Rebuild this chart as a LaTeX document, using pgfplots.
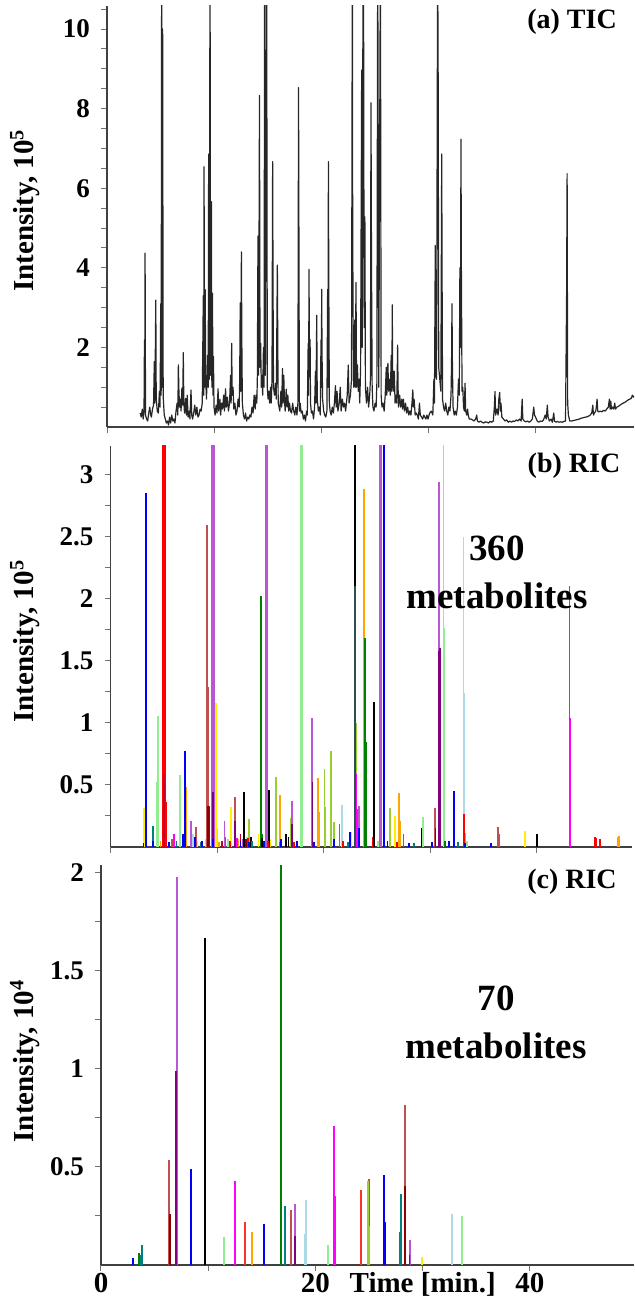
\documentclass[border=0pt]{standalone}
\usepackage{fontspec}
\setmainfont{Liberation Serif}
\usepackage{pgfplots}
\pgfplotsset{compat=1.18}
\definecolor{cBlue}{RGB}{0,0,255}
\definecolor{cRed}{RGB}{255,0,0}
\definecolor{cCrimson}{RGB}{200,0,40}
\definecolor{cLG}{RGB}{144,238,144}
\definecolor{cYellow}{RGB}{255,240,0}
\definecolor{cTeal}{RGB}{0,128,128}
\definecolor{cMagenta}{RGB}{255,0,255}
\definecolor{cOrange}{RGB}{255,165,0}
\definecolor{cPurple}{RGB}{128,0,128}
\definecolor{cOrchid}{RGB}{186,85,211}
\definecolor{cIndian}{RGB}{190,80,80}
\definecolor{cDarkRed}{RGB}{139,0,0}
\definecolor{cGreen}{RGB}{0,128,0}
\definecolor{cYG}{RGB}{154,205,50}
\definecolor{cLB}{RGB}{173,216,230}
\definecolor{cDSG}{RGB}{47,79,79}
\definecolor{cTomato}{RGB}{255,50,40}
\pgfplotsset{
  chrom/.style={
    scale only axis,
    axis x line=bottom, axis y line=left,
    axis line style={-, draw=black!75, line width=0.8pt},
    tick style={draw=black!55, line width=0.5pt},
    tick align=outside,
    major tick length=3pt, minor tick length=3pt,
    xmin=0, ymin=0,
    xtick={0,10,20,30,40},
    clip=true,
    ticklabel style={font=\fontsize{13.5}{15}\bfseries\selectfont},
    /pgf/number format/assume math mode=true,
    ylabel style={font=\fontsize{14.5}{16}\bfseries\selectfont, anchor=center},
  },
  spike/.style={ycomb, no markers, line width=0.9pt},
}
\begin{document}
\begin{tikzpicture}
\useasboundingbox (0,0) rectangle (317pt,-650pt);
% ---------------- (a) TIC ----------------
\begin{axis}[chrom,
  at={(53.5pt,-213.5pt)}, anchor=south west,
  width=263.5pt, height=210.5pt,
  xmax=49.25, ymax=10.58,
  xticklabels={},
  ytick={2,4,6,8,10},
  minor ytick={0.5,1,...,10.5},
  yticklabel style={xshift=-2pt},
  ylabel={Intensity, 10\textsuperscript{5}},
  ylabel style={at={(axis description cs:-0.1556,0.515)}},
]
\addplot[black!85, line width=0.6pt, line join=round] table {
3.10 0.35
3.20 0.25
3.30 0.45
3.38 0.20
3.46 0.40
3.50 2.19
3.53 0.60
3.56 4.37
3.60 0.30
3.70 0.20
3.80 0.15
3.90 0.35
4.00 0.50
4.08 0.30
4.15 0.25
4.25 0.45
4.35 0.55
4.42 1.64
4.46 0.60
4.52 2.00
4.56 3.19
4.60 0.70
4.70 0.40
4.80 0.35
4.90 0.90
4.96 0.50
5.02 3.10
5.06 0.80
5.11 12
5.15 1.00
5.20 10.0
5.25 0.77
5.35 0.30
5.45 0.20
5.55 0.10
5.65 0.15
5.75 0.05
5.85 0.25
5.95 0.10
6.05 0.30
6.15 0.15
6.25 0.20
6.35 0.10
6.45 0.40
6.55 0.60
6.62 0.30
6.67 1.56
6.72 0.93
6.78 0.50
6.85 0.70
6.92 0.40
7.00 0.98
7.07 0.55
7.13 1.87
7.18 0.60
7.25 0.35
7.35 0.72
7.42 0.30
7.50 0.80
7.58 0.25
7.68 0.40
7.75 0.20
7.85 0.93
7.92 0.30
8.00 0.20
8.10 0.35
8.20 0.55
8.30 0.30
8.40 0.50
8.50 0.25
8.60 0.30
8.70 0.45
8.80 0.40
8.90 0.60
9.00 3.30
9.04 0.80
9.07 6.54
9.12 1.00
9.18 3.45
9.22 1.20
9.30 0.70
9.40 1.80
9.46 1.00
9.50 6.86
9.55 1.20
9.63 12
9.68 1.30
9.76 5.66
9.80 1.00
9.86 3.36
9.90 0.80
9.95 1.77
10.00 0.50
10.10 0.30
10.20 0.55
10.28 0.35
10.38 0.96
10.44 0.40
10.55 0.70
10.62 0.30
10.70 0.60
10.80 0.45
10.90 0.80
10.98 0.40
11.08 0.96
11.15 0.50
11.25 0.75
11.35 0.40
11.45 0.60
11.55 1.30
11.60 0.60
11.65 2.10
11.70 0.80
11.78 1.00
11.85 0.45
11.95 0.60
12.05 0.30
12.15 0.40
12.25 0.70
12.35 0.50
12.40 1.20
12.45 3.12
12.50 0.90
12.56 4.40
12.60 2.20
12.65 0.60
12.75 0.30
12.85 0.20
12.95 0.35
13.05 0.15
13.15 0.25
13.25 0.20
13.35 0.30
13.45 0.25
13.55 0.50
13.65 0.35
13.75 0.80
13.85 0.45
13.92 0.80
14.00 0.60
14.05 1.20
14.11 4.80
14.17 1.30
14.25 8.33
14.30 1.50
14.36 2.10
14.42 1.00
14.48 1.30
14.55 0.80
14.62 2.00
14.68 1.00
14.73 12
14.80 1.30
14.92 12
14.98 1.00
15.05 0.70
15.12 0.90
15.20 0.60
15.28 1.00
15.35 0.60
15.42 1.20
15.48 6.67
15.52 3.36
15.56 1.00
15.65 0.80
15.75 1.10
15.82 0.70
15.92 4.07
15.96 2.10
16.00 0.60
16.08 0.50
16.15 0.40
16.25 0.90
16.32 0.50
16.40 1.47
16.45 0.60
16.52 1.30
16.58 0.70
16.65 0.40
16.75 0.95
16.82 0.50
16.90 0.80
16.98 0.40
17.05 0.60
17.15 0.40
17.25 0.35
17.35 0.60
17.45 0.40
17.55 0.30
17.65 0.50
17.75 0.30
17.84 0.60
17.90 8.53
17.94 4.37
17.98 0.40
18.05 0.60
18.15 0.35
18.25 0.40
18.35 0.20
18.45 0.30
18.55 0.15
18.65 0.40
18.72 0.30
18.80 2.10
18.84 0.80
18.88 3.96
18.92 1.50
18.98 2.20
19.02 0.60
19.10 0.35
19.20 0.40
19.30 0.20
19.40 0.50
19.48 1.40
19.53 0.60
19.60 2.81
19.65 0.70
19.75 0.40
19.85 0.50
19.93 0.30
20.00 2.19
20.04 1.00
20.06 3.46
20.10 1.77
20.15 0.70
20.25 0.40
20.35 0.30
20.45 0.25
20.55 0.40
20.62 3.46
20.66 1.00
20.69 6.67
20.73 3.42
20.78 0.60
20.85 0.40
20.95 0.30
21.05 0.50
21.15 0.35
21.25 0.60
21.35 1.04
21.42 0.50
21.50 0.90
21.58 0.40
21.70 0.60
21.80 1.00
21.88 0.40
22.00 0.70
22.10 0.50
22.20 0.60
22.30 0.40
22.45 0.80
22.55 1.56
22.62 0.60
22.75 0.80
22.85 1.20
22.93 12
22.96 5.10
23.00 2.69
23.05 1.00
23.10 1.50
23.15 2.69
23.20 1.00
23.27 3.63
23.32 1.00
23.40 1.56
23.48 0.90
23.55 1.20
23.62 0.60
23.70 1.50
23.80 8.97
23.85 2.00
23.93 12
23.98 10.43
24.03 2.50
24.10 5.28
24.15 1.00
24.25 0.60
24.35 1.00
24.45 0.50
24.55 0.80
24.62 1.20
24.67 8.15
24.72 4.00
24.78 1.00
24.85 0.50
24.95 0.40
25.05 0.60
25.15 0.50
25.22 1.10
25.30 12
25.40 1.00
25.55 12
25.62 0.80
25.70 0.50
25.80 0.60
25.90 0.40
26.00 0.80
26.10 1.50
26.15 0.80
26.25 1.60
26.32 0.90
26.40 1.20
26.48 0.80
26.56 1.80
26.62 0.90
26.66 3.07
26.70 1.20
26.78 0.90
26.85 1.40
26.92 0.60
27.00 0.80
27.08 0.60
27.16 2.06
27.20 1.00
27.25 0.50
27.35 0.80
27.45 0.50
27.55 0.70
27.62 0.45
27.70 0.70
27.80 0.40
27.90 0.60
28.00 0.35
28.10 0.50
28.20 0.30
28.30 0.40
28.40 0.30
28.50 0.60
28.58 0.93
28.63 0.50
28.70 0.70
28.80 0.30
28.90 0.35
29.00 0.30
29.10 0.20
29.20 0.60
29.28 0.30
29.40 0.25
29.50 0.20
29.60 0.30
29.70 0.25
29.80 0.20
29.90 0.30
30.00 0.20
30.15 0.35
30.30 0.40
30.45 0.30
30.55 1.20
30.60 0.60
30.68 4.56
30.72 1.30
30.80 1.20
30.90 12
30.95 8.72
31.00 1.50
31.10 1.20
31.20 0.90
31.28 6.86
31.32 3.45
31.36 0.70
31.45 0.50
31.55 0.40
31.65 0.60
31.75 0.40
31.85 0.30
31.95 0.50
32.05 0.40
32.15 0.80
32.20 1.60
32.24 3.10
32.28 1.60
32.34 0.50
32.45 0.30
32.55 0.40
32.65 0.30
32.75 0.50
32.85 1.20
32.92 0.80
32.98 4.00
33.03 2.00
33.08 7.23
33.12 3.90
33.18 0.90
33.25 1.00
33.32 0.50
33.40 0.40
33.46 1.10
33.52 0.40
33.62 0.30
33.70 0.45
33.76 0.30
33.85 0.20
34.00 0.20
34.15 0.18
34.30 0.15
34.45 0.20
34.55 0.30
34.62 0.15
34.75 0.12
34.90 0.15
35.05 0.12
35.20 0.10
35.35 0.13
35.50 0.12
35.65 0.10
35.80 0.14
35.95 0.12
36.10 0.15
36.20 0.50
36.26 0.89
36.32 0.30
36.45 0.45
36.55 0.30
36.62 0.70
36.70 0.87
36.76 0.40
36.82 0.60
36.90 0.25
37.05 0.20
37.20 0.15
37.35 0.18
37.50 0.12
37.65 0.15
37.80 0.12
37.95 0.15
38.10 0.14
38.25 0.18
38.40 0.15
38.55 0.20
38.70 0.15
38.80 0.70
38.86 0.20
39.00 0.15
39.15 0.13
39.30 0.15
39.45 0.12
39.60 0.15
39.75 0.20
39.88 0.50
39.95 0.30
40.05 0.25
40.20 0.15
40.35 0.12
40.50 0.15
40.65 0.14
40.80 0.18
40.95 0.30
41.05 0.20
41.15 0.55
41.22 0.25
41.35 0.15
41.50 0.20
41.62 0.12
41.75 0.35
41.82 0.15
41.95 0.12
42.10 0.14
42.25 0.12
42.40 0.13
42.55 0.12
42.70 0.14
42.85 0.15
42.95 3.24
43.00 6.37
43.05 0.60
43.12 0.30
43.25 0.15
43.40 0.15
43.55 0.16
43.70 0.17
43.85 0.18
44.00 0.19
44.15 0.20
44.30 0.22
44.45 0.23
44.60 0.24
44.75 0.25
44.90 0.26
45.05 0.28
45.15 0.30
45.30 0.35
45.40 0.55
45.46 0.30
45.55 0.35
45.68 0.40
45.75 0.55
45.80 0.70
45.86 0.40
45.95 0.38
46.10 0.40
46.25 0.38
46.40 0.42
46.55 0.40
46.70 0.45
46.85 0.50
46.95 0.70
47.02 0.45
47.08 0.65
47.14 0.45
47.25 0.50
47.35 0.45
47.45 0.60
47.52 0.45
47.65 0.50
47.80 0.52
47.95 0.55
48.10 0.58
48.25 0.60
48.40 0.62
48.55 0.65
48.70 0.68
48.85 0.70
49.00 0.72
49.10 0.80
49.20 0.75
49.30 0.78
};
\end{axis}
% ---------------- (b) RIC ----------------
\begin{axis}[chrom,
  at={(55.25pt,-423.35pt)}, anchor=south west,
  width=261pt, height=200.35pt,
  xmax=49.0, ymax=3.23,
  xticklabels={},
  ytick={0.5,1,1.5,2,2.5,3},
  minor ytick={0.25,0.75,...,3.25},
  yticklabel style={xshift=-2pt},
  ylabel={Intensity, 10\textsuperscript{5}},
  ylabel style={at={(axis description cs:-0.1638,0.513)}},
]
\addplot[spike, cLB] coordinates {(7.75,0.1) (9.0,0.06) (10.0,0.15) (12.8,0.08) (21.7,0.34) (23.0,2.88) (33.13,2.5) (33.17,1.24)};
\addplot[spike, cLG] coordinates {(4.33,0.52) (4.49,1.05) (6.5,0.58) (6.53,0.31) (8.0,0.04) (9.72,0.87) (11.0,0.06) (17.9,3.5) (17.95,3.5) (17.98,1.63) (19.0,0.03) (25.1,0.05) (29.35,0.24) (31.25,3.5) (31.3,1.76) (33.5,0.05)};
\addplot[spike, cYG] coordinates {(9.8,0.25) (13.0,0.22) (15.5,0.56) (15.54,0.28) (16.9,0.23) (20.08,0.63) (20.12,0.32) (20.7,0.77) (20.74,0.38) (21.0,0.2) (23.05,1.0) (24.75,0.3) (26.24,0.31) (33.3,0.11) (47.6,0.08)};
\addplot[spike, cYellow] coordinates {(3.18,0.31) (8.1,0.05) (9.9,1.16) (9.95,0.58) (11.28,0.32) (13.9,0.1) (15.0,0.06) (22.6,0.12) (26.7,0.25) (26.75,0.12) (38.9,0.13) (38.95,0.08)};
\addplot[spike, cOrange] coordinates {(4.7,0.05) (7.1,0.48) (7.14,0.24) (10.2,0.04) (12.0,0.06) (15.9,0.42) (15.94,0.2) (19.5,0.55) (19.55,0.28) (23.8,2.88) (27.1,0.43) (27.14,0.21) (47.7,0.09)};
\addplot[spike, cIndian] coordinates {(5.8,0.06) (8.0,0.16) (9.05,2.59) (9.12,1.29) (11.69,0.40) (11.74,0.2) (21.5,0.18) (30.47,0.31) (36.4,0.16) (36.45,0.1)};
\addplot[spike, cOrchid] coordinates {(7.58,0.21) (9.55,3.5) (9.7,3.5) (10.7,0.21) (12.4,0.06) (14.6,3.5) (14.72,3.5) (17.0,0.37) (18.93,1.04) (23.3,0.33) (25.3,3.5) (25.4,3.5) (30.85,2.94)};
\addplot[spike, cPurple] coordinates {(9.3,0.33) (9.6,0.44) (11.7,0.21) (17.04,0.18) (18.97,0.52) (30.8,1.58) (30.9,1.6)};
\addplot[spike, cGreen] coordinates {(14.13,2.02) (14.2,0.1) (23.9,1.68) (23.95,0.84) (31.4,0.05)};
\addplot[spike, cMagenta] coordinates {(5.95,0.1) (6.0,0.06) (10.8,0.08) (11.9,0.07) (15.9,0.04) (23.1,0.59) (23.15,0.3) (27.5,0.1) (43.08,2.1) (43.12,1.04)};
\addplot[spike, black] coordinates {(12.53,0.44) (12.57,0.22) (13.2,0.08) (14.2,0.07) (14.9,0.46) (16.5,0.1) (16.7,0.08) (22.96,3.5) (24.7,1.17) (24.74,0.58) (29.2,0.15) (40.0,0.1)};
\addplot[spike, cDSG] coordinates {(22.93,2.1)};
\addplot[spike, cTeal] coordinates {(3.96,0.17) (4.0,0.08) (6.2,0.05) (8.5,0.04) (13.3,0.05) (22.3,0.04) (28.5,0.03) (32.6,0.04)};
\addplot[spike, cRed] coordinates {(4.9,3.5) (5.1,3.5) (5.2,0.36) (11.2,0.05) (12.9,0.07) (14.8,0.05) (17.2,0.04) (21.8,0.05) (24.6,0.08) (26.9,0.04) (33.15,0.26) (33.2,0.13) (45.5,0.08) (45.6,0.07) (45.95,0.06)};
\addplot[spike, cCrimson] coordinates {(5.0,0.59) (10.5,0.05) (12.2,0.1)};
\addplot[spike, cDarkRed] coordinates {(9.15,0.33) (12.7,0.06) (30.5,0.15)};
\addplot[spike, cBlue] coordinates {(3.1,0.03) (3.33,2.85) (3.37,1.42) (4.0,0.05) (5.5,0.04) (6.8,0.1) (7.0,0.77) (7.04,0.12) (7.9,0.08) (8.6,0.05) (9.6,0.06) (12.2,0.05) (13.0,0.04) (14.4,0.05) (16.0,0.06) (17.5,0.05) (19.1,0.04) (21.0,0.06) (22.5,0.12) (23.3,0.15) (25.65,3.5) (25.7,3.5) (26.0,0.05) (28.0,0.03) (30.2,0.04) (31.8,0.05) (32.25,0.45) (32.3,0.22) (33.3,0.03) (35.7,0.03)};
\end{axis}
% ---------------- (c) RIC ----------------
\begin{axis}[chrom,
  at={(50.5pt,-632.5pt)}, anchor=south west,
  width=266.5pt, height=200pt,
  xmax=49.7, ymax=2.04,
  xticklabels={0,,20,Time [min.],40},
  xticklabel style={font=\fontsize{14.5}{15}\bfseries\selectfont, anchor=base, yshift=-10.5pt},
  ytick={0.5,1,1.5,2},
  minor ytick={0.25,0.75,1.25,1.75},
  yticklabel style={xshift=-2pt},
  ylabel={Intensity, 10\textsuperscript{4}},
  ylabel style={at={(axis description cs:-0.1426,0.51)}},
]
\addplot[spike, cBlue] coordinates {(3.0,0.035) (8.39,0.49) (8.43,0.24) (15.16,0.1) (15.2,0.21) (26.42,0.46) (26.46,0.22)};
\addplot[spike, cGreen] coordinates {(3.55,0.063) (16.78,2.05) (16.83,1.46)};
\addplot[spike, cTeal] coordinates {(3.7,0.05) (3.85,0.1) (17.12,0.15) (17.16,0.3) (27.9,0.17) (27.94,0.364)};
\addplot[spike, cIndian] coordinates {(6.37,0.535) (17.75,0.28) (25.0,0.44) (28.38,0.815)};
\addplot[spike, cDarkRed] coordinates {(6.42,0.26) (28.34,0.405)};
\addplot[spike, cOrchid] coordinates {(7.06,1.98) (18.12,0.31) (28.81,0.13)};
\addplot[spike, cPurple] coordinates {(7.02,0.99) (18.08,0.15) (28.77,0.05)};
\addplot[spike, black] coordinates {(9.66,0.83) (9.7,1.67)};
\addplot[spike, cLG] coordinates {(11.42,0.07) (11.47,0.145) (21.13,0.05) (21.17,0.1) (33.65,0.12) (33.69,0.25)};
\addplot[spike, cMagenta] coordinates {(12.52,0.43) (21.76,0.71) (21.8,0.35)};
\addplot[spike, cTomato] coordinates {(13.43,0.22) (24.2,0.18) (24.24,0.385)};
\addplot[spike, cOrange] coordinates {(14.05,0.08) (14.1,0.166)};
\addplot[spike, cLB] coordinates {(19.04,0.16) (19.08,0.33) (32.7,0.26)};
\addplot[spike, cYG] coordinates {(24.93,0.43) (24.96,0.2)};
\addplot[spike, cYellow] coordinates {(29.9,0.043)};
\end{axis}
% ---------------- annotations ----------------
\node[font=\fontsize{14}{16}\bfseries\selectfont] at (286pt,-11pt) {(a) TIC};
\node[font=\fontsize{14}{16}\bfseries\selectfont] at (287pt,-233pt) {(b) RIC};
\node[font=\fontsize{14}{16}\bfseries\selectfont] at (286pt,-441pt) {(c) RIC};
\node[align=center, font=\fontsize{18.5}{24}\bfseries\selectfont] at (248.5pt,-286pt) {360\\metabolites};
\node[align=center, font=\fontsize{18.5}{24}\bfseries\selectfont] at (248pt,-511pt) {70\\metabolites};
\end{tikzpicture}
\end{document}
